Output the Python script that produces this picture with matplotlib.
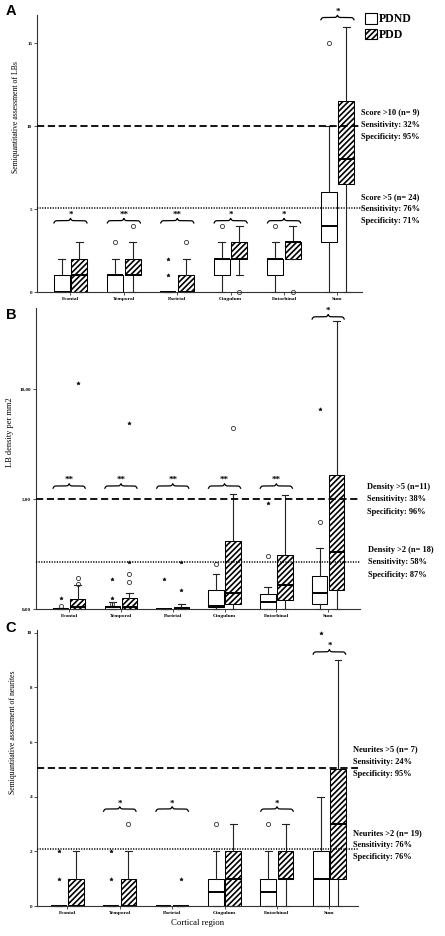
import numpy as np
import matplotlib
matplotlib.use("Agg")
import matplotlib.pyplot as plt
from matplotlib.patches import Patch

# Polices : serif gras partout (style Times)
plt.rcParams['font.family'] = ['Liberation Serif', 'DejaVu Serif']
plt.rcParams['font.weight'] = 'bold'
plt.rcParams['hatch.color'] = 'black'
plt.rcParams['hatch.linewidth'] = 1.2

categories = ['Frontal', 'Temporal', 'Parietal', 'Cingulum', 'Entorhinal', 'Sum']

# ---- Panel A : semiquantitative LBs (whislo, q1, med, q3, whishi)
a_pdnd = [[0, 0, 0, 1, 2], [0, 0, 1, 1, 2], [0, 0, 0, 0, 0],
          [0, 1, 2, 2, 3], [0, 1, 2, 2, 3], [0, 3, 4, 6, 10]]
a_pdd = [[0, 0, 1, 2, 3], [0, 1, 1, 2, 3], [0, 0, 0, 1, 2],
         [1, 2, 2, 3, 4], [2, 2, 3, 3, 4], [0, 6.5, 8, 11.5, 16]]
a_pdnd_circles = [[], [3], [], [4], [4], [15]]
a_pdnd_stars = [[], [], [1, 2], [], [], []]
a_pdd_circles = [[], [4], [3], [0], [0], []]
a_pdd_stars = [[], [], [], [], [], []]
a_sig = ['*', '**', '**', '*', '*', '*']
a_brace_y = [4.3, 4.3, 4.3, 4.3, 4.3, 16.55]
a_dash, a_dot = 10, 5.05
a_text_hi = ['Score >10 (n= 9)', 'Sensitivity: 32%', 'Specificity: 95%']
a_text_lo = ['Score >5 (n= 24)', 'Sensitivity: 76%', 'Specificity: 71%']

# ---- Panel B : LB density per mm2
b_pdnd = [[0, 0, 0.01, 0.03, 0.06], [0, 0.01, 0.08, 0.13, 0.3], [0, 0, 0, 0.01, 0.02],
          [0, 0.1, 0.15, 0.87, 1.6], [0, 0.02, 0.3, 0.69, 0.99], [0, 0.24, 0.74, 1.48, 2.78]]
b_pdd = [[0, 0, 0.07, 0.44, 1.07], [0, 0.02, 0.1, 0.5, 0.74], [0, 0, 0.02, 0.08, 0.22],
         [0, 0.24, 0.74, 3.08, 5.24], [0, 0.42, 1.07, 2.46, 5.2], [0, 0.87, 2.58, 6.11, 13.1]]
b_pdnd_circles = [[0.15], [0.25], [], [2.05], [2.4], [3.95]]
b_pdnd_stars = [[0.48], [0.48, 1.36], [1.36], [], [4.83], [9.1]]
b_pdd_circles = [[1.12, 1.4], [1.24, 1.58], [], [8.25], [], []]
b_pdd_stars = [[10.3], [2.15, 8.45], [0.86, 2.15], [], [], []]
b_sig = ['**', '**', '**', '**', '**', '*']
b_brace_y = [5.6, 5.6, 5.6, 5.6, 5.6, 13.3]
b_dash, b_dot = 5, 2.12
b_text_hi = ['Density >5 (n=11)', 'Sensitivity: 38%', 'Specificity: 96%']
b_text_lo = ['Density >2 (n= 18)', 'Sensitivity: 58%', 'Specificity: 87%']

# ---- Panel C : semiquantitative neurites
c_pdnd = [[0, 0, 0, 0, 0], [0, 0, 0, 0, 0], [0, 0, 0, 0, 0],
          [0, 0, 0.5, 1, 2], [0, 0, 0.5, 1, 2], [0, 0, 1, 2, 4]]
c_pdd = [[0, 0, 0, 1, 2], [0, 0, 0, 1, 2], [0, 0, 0, 0, 0],
         [0, 0, 1, 2, 3], [0, 1, 1, 2, 3], [0, 1, 3, 5, 9]]
c_pdnd_circles = [[], [], [], [3], [3], []]
c_pdnd_stars = [[1, 2], [1, 2], [], [], [], [10]]
c_pdd_circles = [[], [3], [], [], [], []]
c_pdd_stars = [[], [], [1], [], [], []]
c_sig = ['', '*', '*', '', '*', '*']
c_brace_y = [None, 3.55, 3.55, None, 3.55, 9.3]
c_dash, c_dot = 5.05, 2.1
c_text_hi = ['Neurites >5 (n= 7)', 'Sensitivity: 24%', 'Specificity: 95%']
c_text_lo = ['Neurites >2 (n= 19)', 'Sensitivity: 76%', 'Specificity: 76%']

W, H = 445, 936
fig = plt.figure(figsize=(W / 100, H / 100), dpi=100)


def px_axes(x0, x1, ytop, ybot):
    return fig.add_axes([x0 / W, 1 - ybot / H, (x1 - x0) / W, (ybot - ytop) / H])


def draw_brace(ax, xc, half, y, h):
    t = np.linspace(0, 1, 301)
    tt = np.where(t <= 0.5, t, 1 - t)
    beta = 55
    yb = 1 / (1 + np.exp(-beta * tt)) + 1 / (1 + np.exp(-beta * (tt - 0.5))) - 1
    ax.plot(xc - half + 2 * half * t, y + h * yb, color='k', lw=0.9, clip_on=False)


def draw_panel(ax, pdnd, pdd, circ1, star1, circ2, star2, sig, brace_y, ylim, xlim):
    ax.set_xlim(*xlim)
    ax.set_ylim(*ylim)
    x = np.arange(len(categories))
    off = 0.165
    common = dict(widths=0.3, patch_artist=True, showfliers=False, manage_ticks=False,
                  medianprops=dict(color='k', lw=1.4),
                  whiskerprops=dict(color='#222222', lw=0.8),
                  capprops=dict(color='#222222', lw=0.8), capwidths=0.13)
    for rows, pos, hatch in [(pdnd, x - off, None), (pdd, x + off, '//////')]:
        stats = [dict(whislo=r[0], q1=r[1], med=r[2], q3=r[3], whishi=r[4]) for r in rows]
        art = ax.bxp(stats, positions=pos,
                     boxprops=dict(facecolor='white', edgecolor='k', lw=0.75, hatch=hatch),
                     **common)
        for k in art:
            for a in art[k]:
                a.set_clip_on(False)
    # valeurs extremes
    for pos, circ, star in [(x - off, circ1, star1), (x + off, circ2, star2)]:
        for p, cv, sv in zip(pos, circ, star):
            if cv:
                ax.plot([p] * len(cv), cv, 'o', ms=3, mfc='none', mec='#333333', mew=0.6, clip_on=False)
            if sv:
                ax.plot([p] * len(sv), sv, '*', ms=2.6, color='#111111', mew=0.4, clip_on=False)
    # accolades + etoiles
    px_per_unit = ax.get_position().height * H / (ylim[1] - ylim[0])
    for xi, s, by in zip(x, sig, brace_y):
        if not s:
            continue
        draw_brace(ax, xi, 0.31, by, 4.5 / px_per_unit)
        ax.annotate(s, (xi, by), xytext=(0, 1.2), textcoords='offset points',
                    ha='center', va='bottom', fontsize=6.5, annotation_clip=False)
    for sp in ['top', 'right']:
        ax.spines[sp].set_visible(False)
    for sp in ['left', 'bottom']:
        ax.spines[sp].set_linewidth(0.8)
        ax.spines[sp].set_color('#333333')
    ax.set_xticks(x)
    ax.set_xticklabels(categories, fontsize=3.9)
    ax.tick_params(axis='both', length=2, width=0.6, pad=1.5, colors='#333333', labelcolor='black')
    ax.tick_params(axis='y', labelsize=3.6)


def thresholds(ax, ydash, ydot):
    ax.axhline(ydash, color='k', lw=1.3, dashes=(4, 2), zorder=5)
    ax.axhline(ydot, color='k', lw=1.1, dashes=(0.8, 0.9), zorder=5)


def stat_block(lines, x, ys):
    for s, y in zip(lines, ys):
        fig.text(x / W, 1 - y / H, s, fontsize=6, va='center', ha='left')


# ---- A
axA = px_axes(37, 362, 15, 292)
draw_panel(axA, a_pdnd, a_pdd, a_pdnd_circles, a_pdnd_stars, a_pdd_circles, a_pdd_stars,
           a_sig, a_brace_y, (0, 16.7), (-0.627, 5.46))
thresholds(axA, a_dash, a_dot)
axA.set_yticks([0, 5, 10, 15])
axA.set_ylabel('Semiquantitative assessment of LBs', fontsize=5.6)
axA.yaxis.set_label_coords(-0.052, 0.63)
stat_block(a_text_hi, 361, [112, 125, 137])
stat_block(a_text_lo, 361, [197, 209, 221])

# ---- B
axB = px_axes(36, 360, 308, 609)
draw_panel(axB, b_pdnd, b_pdd, b_pdnd_circles, b_pdnd_stars, b_pdd_circles, b_pdd_stars,
           b_sig, b_brace_y, (0, 13.7), (-0.64, 5.615))
thresholds(axB, b_dash, b_dot)
axB.set_yticks([0, 5, 10])
axB.set_yticklabels(['0,00', '5,00', '10,00'])
axB.set_ylabel('LB density per mm2', fontsize=6)
axB.yaxis.set_label_coords(-0.068, 0.588)
stat_block(b_text_hi, 367, [487, 499, 512])
stat_block(b_text_lo, 368, [550, 562, 575])

# ---- C
axC = px_axes(37, 358, 630, 906)
draw_panel(axC, c_pdnd, c_pdd, c_pdnd_circles, c_pdnd_stars, c_pdd_circles, c_pdd_stars,
           c_sig, c_brace_y, (0, 10.1), (-0.58, 5.546))
thresholds(axC, c_dash, c_dot)
axC.set_yticks([0, 2, 4, 6, 8, 10])
axC.set_ylabel('Semiquantitative assessment of neurites', fontsize=5.6)
axC.yaxis.set_label_coords(-0.062, 0.63)
axC.set_xlabel('Cortical region', fontsize=6.3, labelpad=3)
stat_block(c_text_hi, 353, [749, 762, 774])
stat_block(c_text_lo, 353, [833, 845, 857])

# lettres des panneaux
for letter, yy in [('A', 11), ('B', 315), ('C', 628)]:
    fig.text(11 / W, 1 - yy / H, letter, fontsize=10.5, weight='bold', ha='center', va='center',
             family=['Liberation Sans', 'DejaVu Sans'])

# legende
handles = [Patch(facecolor='white', edgecolor='k', lw=0.8, label='PDND'),
           Patch(facecolor='white', edgecolor='k', lw=0.8, hatch='//////', label='PDD')]
fig.legend(handles=handles, loc='upper left', bbox_to_anchor=(365 / W, 1 - 13 / H),
           frameon=False, fontsize=8.5, handlelength=1.0, handleheight=1.0,
           handletextpad=0.2, labelspacing=0.3, borderpad=0, borderaxespad=0)

fig.savefig('out.png', dpi=100)
